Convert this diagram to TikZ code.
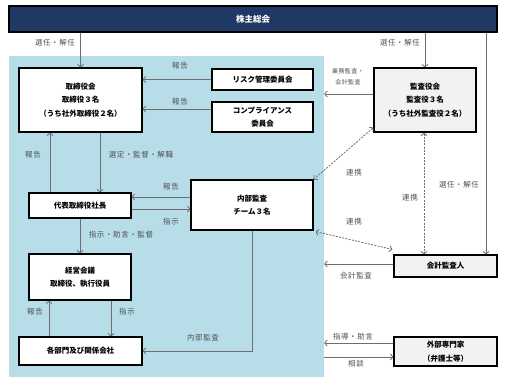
\documentclass[tikz,border=0pt]{standalone}
\usepackage{fontspec}
\setmainfont{Noto Sans CJK JP}
\newfontfamily\labfont{Noto Sans CJK JP}[LetterSpace=8]
\usetikzlibrary{arrows.meta}
\definecolor{navy}{HTML}{1F3864}
\definecolor{zonec}{HTML}{B7DDE8}
\definecolor{boxg}{HTML}{F2F2F2}
\definecolor{lineg}{HTML}{6E6E6E}
\definecolor{textg}{HTML}{505050}
\begin{document}
\begin{tikzpicture}[x=1pt,y=-1pt,
  box/.style={draw=black, line width=1.2pt, fill=white, align=center,
    font=\fontsize{7.5}{13.5}\selectfont\bfseries, inner sep=0pt},
  gbox/.style={box, fill=boxg},
  arr/.style={draw=lineg, line width=0.8pt, -{Straight Barb[length=2.5pt,width=6pt]}},
  darr/.style={draw=lineg, line width=0.8pt, dash pattern=on 2pt off 1.3pt,
    {Straight Barb[length=2.5pt,width=6pt]}-{Straight Barb[length=2.5pt,width=6pt]}},
  lbl/.style={text=textg, font=\labfont\fontsize{7.5}{11}\selectfont, inner sep=0pt, align=center},
  slbl/.style={text=textg, font=\labfont\fontsize{6}{11}\selectfont, inner sep=0pt, align=center}
]
\useasboundingbox[fill=white] (0,0) rectangle (515,383);
% zone
\node[fill=zonec, minimum width=315pt, minimum height=321pt, inner sep=0pt] (zone) at (166.5,216.5) {};
% top bar
\node[draw=black, line width=1.2pt, fill=navy, text=white, minimum width=488pt, minimum height=26pt, inner sep=0pt,
  font=\fontsize{8.5}{10}\selectfont\bfseries] (soukai) at (253,19) {株主総会};
% boxes
\node[box, minimum width=123pt, minimum height=64pt] (tori) at (80.5,100) {取締役会\\取締役３名\\（うち社外取締役２名）};
\node[box, minimum width=101pt, minimum height=21pt] (risk) at (262.5,79.5) {リスク管理委員会};
\node[box, minimum width=101pt, minimum height=30pt] (comp) at (262.5,117) {コンプライアンス\\委員会};
\node[gbox, minimum width=102pt, minimum height=64pt] (kansa) at (425,100) {監査役会\\監査役３名\\（うち社外監査役２名）};
\node[box, minimum width=102pt, minimum height=25pt] (shacho) at (80,205.5) {代表取締役社長};
\node[box, minimum width=122pt, minimum height=50pt] (naibu) at (252,205) {内部監査\\チーム３名};
\node[box, minimum width=102pt, minimum height=46pt] (keiei) at (80,277) {経営会議\\取締役、執行役員};
\node[box, minimum width=123pt, minimum height=28pt] (kakubu) at (80.5,351) {各部門及び関係会社};
\node[gbox, minimum width=103pt, minimum height=22pt] (kaikei) at (445.5,266) {会計監査人};
\node[gbox, minimum width=103pt, minimum height=29pt] (gaibu) at (445.5,351.5) {外部専門家\\（弁護士等）};
% arrows
\draw[arr] (tori.north |- soukai.south) -- (tori.north);
\draw[arr] (kansa.north |- soukai.south) -- (kansa.north);
\draw[arr] (soukai.south -| 486,0) -- (kaikei.north -| 486,0);
\draw[arr] (risk.west) -- (tori.east |- risk.west);
\draw[arr] (comp.west |- 0,109) -- (tori.east |- 0,109);
\draw[arr] (kansa.west |- 0,94) -- (zone.east |- 0,94);
\draw[arr] (tori.south -| 100,0) -- (shacho.north -| 100,0);
\draw[arr] (shacho.north -| 50,0) -- (tori.south -| 50,0);
\draw[arr] (naibu.west |- 0,197) -- (shacho.east |- 0,197);
\draw[arr] (shacho.east |- 0,209) -- (naibu.west |- 0,209);
\draw[arr] (shacho.south) -- (keiei.north);
\draw[arr] (keiei.south -| 111,0) -- (kakubu.north -| 111,0);
\draw[arr] (kakubu.north -| 49,0) -- (keiei.south -| 49,0);
\draw[arr] (naibu.south) |- (kakubu.east);
\draw[darr] ([yshift=5pt]kansa.south west) -- (naibu.north east);
\draw[darr] (kansa.south -| 424,0) -- (kaikei.north -| 424,0);
\draw[darr] ([shift={(2pt,-1pt)}]naibu.south east) -- ([shift={(-1pt,5pt)}]kaikei.north west);
\draw[arr] (kaikei.west |- 0,264) -- (zone.east |- 0,264);
\draw[arr] (gaibu.west |- 0,343) -- (zone.east |- 0,343);
\draw[arr] (zone.east |- 0,357) -- (gaibu.west |- 0,357);
% labels
\node[lbl] (l1) at (55,43) {選任・解任};
\node[lbl] (l2) at (400,43) {選任・解任};
\node[lbl] (l3) at (459,185) {選任・解任};
\node[lbl] (l4) at (180,66) {報告};
\node[lbl] (l5) at (180,102) {報告};
\node[slbl] (l6) at (348,71) {業務監査・};
\node[slbl] (l7) at (348,82.5) {会計監査};
\node[lbl] (l8) at (33,155) {報告};
\node[lbl] (l9) at (141,155) {選定・監督・解職};
\node[lbl] (l10) at (171,187) {報告};
\node[lbl] (l11) at (171,222) {指示};
\node[lbl] (l12) at (121,235) {指示・助言・監督};
\node[lbl] (l13) at (35,312) {報告};
\node[lbl] (l14) at (127,312) {指示};
\node[lbl] (l15) at (203,338) {内部監査};
\node[lbl] (l16) at (354,173) {連携};
\node[lbl] (l17) at (410,198) {連携};
\node[lbl] (l18) at (354,222) {連携};
\node[lbl] (l19) at (356,275.5) {会計監査};
\node[lbl] (l20) at (353,337) {指導・助言};
\node[lbl] (l21) at (356,364) {相談};
\end{tikzpicture}
\end{document}
